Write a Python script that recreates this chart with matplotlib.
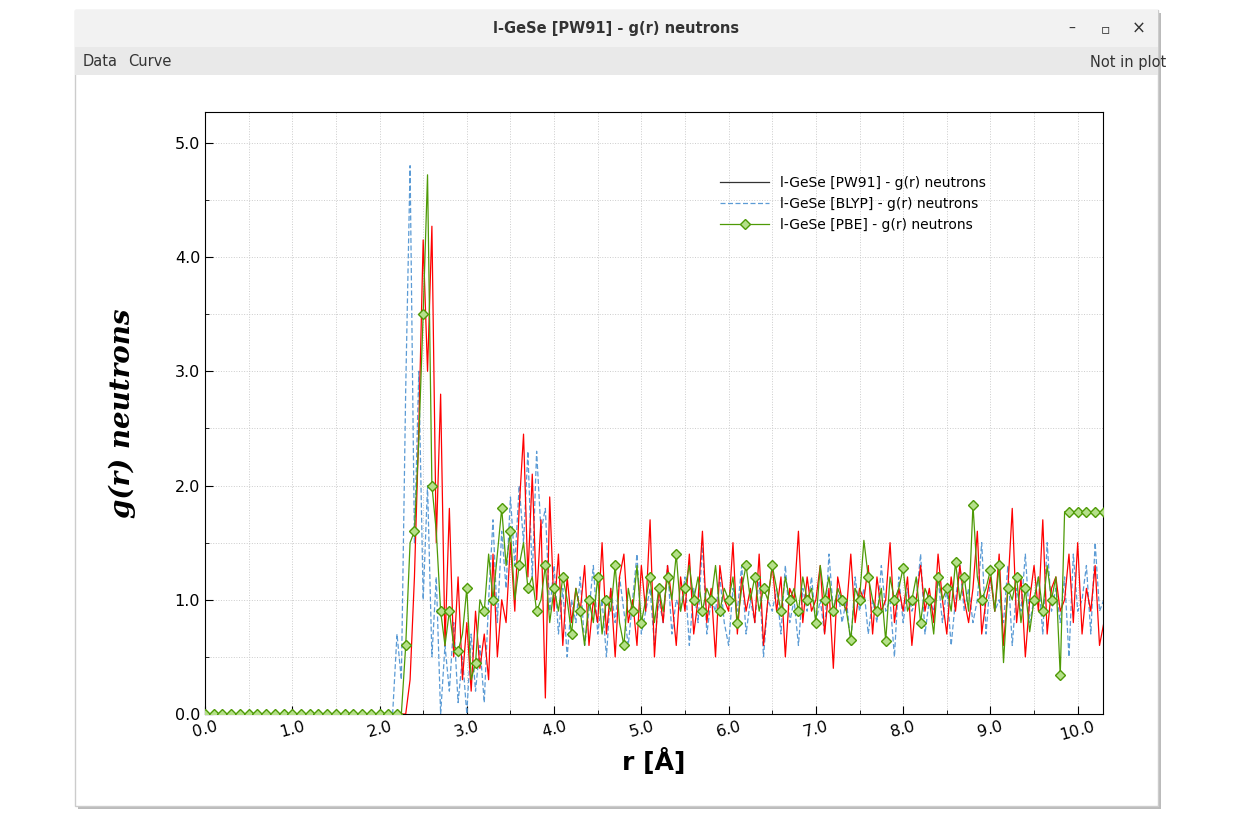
import numpy as np
import matplotlib
matplotlib.use('Agg')
import matplotlib.pyplot as plt
from matplotlib.patches import Rectangle
from matplotlib.ticker import MultipleLocator

# grid of r values, 0.05 A step
r = np.round(np.arange(0, 10.301, 0.05), 2)

pw91_head = [0.0] * 46  # 0.00 .. 2.25
pw91 = pw91_head + [
    0.0, 0.3, 1.2, 2.5, 4.15, 3.0, 4.27, 1.5, 2.8, 0.6,
    1.8, 0.5, 1.2, 0.3, 0.8, 0.2, 0.9, 0.4, 0.7, 0.3,
    1.4, 0.5, 1.0, 0.8, 1.5, 0.9, 1.8, 2.45, 1.2, 2.1,
    1.0, 1.7, 0.14, 1.9, 0.9, 1.4, 0.6, 1.2, 0.8, 1.1,
    0.9, 1.3, 0.6, 1.0, 0.8, 1.5, 0.7, 1.1, 0.5, 1.2,
    1.4, 0.8, 1.0, 0.6, 1.3, 0.9, 1.7, 0.5, 1.1, 0.8,
    1.3, 1.0, 0.6, 1.2, 0.9, 1.4, 0.7, 1.0, 1.6, 0.8,
    1.1, 0.5, 1.3, 1.0, 0.9, 1.5, 0.7, 1.2, 0.9, 1.1,
    0.8, 1.4, 0.6, 1.0, 1.3, 0.9, 1.2, 0.5, 1.1, 1.0,
    1.6, 0.8, 1.2, 0.9, 1.0, 1.3, 0.7, 1.1, 0.4, 1.2,
    1.0, 0.9, 1.4, 0.8, 1.1, 1.0, 1.3, 0.7, 1.2, 0.9,
    1.0, 1.5, 0.8, 1.1, 0.9, 1.2, 0.6, 1.0, 1.3, 0.9,
    1.1, 0.8, 1.4, 1.0, 0.7, 1.2, 0.9, 1.3, 1.0, 0.8,
    1.1, 1.6, 0.7, 1.0, 1.2, 0.9, 1.4, 0.6, 1.1, 1.8,
    0.8, 1.2, 0.5, 1.0, 1.3, 0.9, 1.7, 0.7, 1.1, 1.2,
    0.9, 1.0, 1.4, 0.8, 1.5, 0.7, 1.1, 0.9, 1.3, 0.6,
    0.8,
]

blyp_head = [0.0] * 44  # 0.00 .. 2.15
blyp = blyp_head + [
    0.7, 0.3, 2.85, 4.8, 1.5, 3.0, 1.0, 2.0, 0.5, 1.2,
    0.0, 0.6, 0.2, 0.8, 0.1, 0.5, 0.0, 0.7, 0.2, 0.6,
    0.1, 1.0, 1.7, 0.8, 1.6, 1.1, 1.9, 1.3, 2.0, 1.5,
    2.3, 1.2, 2.3, 1.6, 1.8, 0.9, 1.3, 0.7, 1.1, 0.5,
    1.0, 0.8, 1.2, 0.6, 0.9, 1.3, 0.7, 1.0, 0.5, 1.1,
    0.8, 1.2, 0.9, 0.6, 1.0, 1.4, 0.7, 0.9, 1.1, 0.6,
    1.0, 0.8, 1.3, 0.7, 1.0, 0.9, 1.2, 0.6, 1.1, 0.8,
    1.5, 0.7, 1.0, 0.9, 1.2, 0.8, 0.6, 1.1, 0.9, 1.3,
    0.7, 1.0, 0.8, 1.2, 0.5, 1.0, 0.9, 1.1, 0.7, 1.3,
    0.8, 1.0, 0.6, 1.1, 0.9, 1.2, 0.8, 1.0, 0.7, 1.4,
    0.9, 1.1, 0.8, 1.0, 0.6, 1.2, 0.9, 1.1, 0.7, 1.0,
    0.8, 1.3, 0.9, 1.0, 0.5, 1.2, 0.8, 1.1, 0.9, 1.0,
    1.4, 0.7, 1.0, 0.9, 1.2, 0.8, 1.1, 0.6, 1.0, 1.3,
    0.9, 1.1, 0.8, 1.0, 1.5, 0.7, 1.2, 0.9, 1.0, 0.8,
    1.3, 0.6, 1.1, 0.9, 1.4, 0.8, 1.0, 1.2, 0.7, 1.5,
    0.9, 1.1, 0.8, 1.2, 0.5, 1.4, 0.9, 1.0, 1.3, 0.7,
    1.5, 0.9, 1.0,
]

pbe_head = [0.0] * 46  # 0.00 .. 2.25
pbe = pbe_head + [
    0.6, 1.5, 1.6, 2.4, 3.5, 4.72, 2.0, 1.6, 0.9, 0.6,
    0.9, 0.6, 0.55, 0.7, 1.1, 0.3, 0.45, 1.0, 0.9, 1.4,
    1.0, 1.4, 1.8, 1.3, 1.6, 1.0, 1.3, 1.5, 1.1, 1.2,
    0.9, 1.0, 1.3, 0.8, 1.1, 0.9, 1.2, 1.0, 0.7, 1.1,
    0.9, 0.6, 1.0, 0.8, 1.2, 0.7, 1.0, 0.9, 1.3, 0.8,
    0.6, 1.1, 0.9, 1.3, 0.8, 1.0, 1.2, 0.8, 1.1, 0.9,
    1.2, 1.0, 1.4, 0.9, 1.1, 1.3, 1.0, 1.2, 0.9, 1.1,
    1.0, 1.3, 0.9, 1.1, 1.0, 1.2, 0.8, 1.1, 1.3, 1.0,
    1.2, 0.9, 1.1, 1.0, 1.3, 1.1, 0.9, 1.2, 1.0, 1.1,
    0.9, 1.2, 1.0, 1.1, 0.8, 1.3, 1.0, 1.2, 0.9, 1.1,
    1.0, 0.9, 0.65, 1.1, 1.0, 1.52, 1.2, 1.0, 0.9, 1.1,
    0.64, 1.2, 1.0, 1.1, 1.28, 0.9, 1.0, 1.2, 0.8, 1.1,
    1.0, 0.7, 1.2, 1.0, 1.1, 0.9, 1.33, 1.0, 1.2, 0.9,
    1.83, 1.2, 1.0, 1.1, 1.26, 0.9, 1.3, 0.45, 1.1, 1.0,
    1.2, 0.8, 1.1, 0.72, 1.0, 1.2, 0.9, 1.3, 1.0, 1.2,
    0.34, 1.77,
]
pw91 = (pw91 + [pw91[-1]] * len(r))[:len(r)]
blyp = (blyp + [blyp[-1]] * len(r))[:len(r)]
pbe = (pbe + [pbe[-1]] * len(r))[:len(r)]

fig = plt.figure(figsize=(12.41, 8.25), dpi=100)
W, H = 1241, 825


def rect(x0, y0, x1, y1, **kw):
    fig.patches.append(Rectangle((x0 / W, 1 - y1 / H), (x1 - x0) / W, (y1 - y0) / H,
                                 transform=fig.transFigure, **kw))


# window frame
rect(78, 13, 1161, 809, facecolor='#bbbbbb', edgecolor='none', zorder=-3)
rect(75, 10, 1158, 806, facecolor='white', edgecolor='#cccccc', zorder=-2)
rect(75, 10, 1158, 47, facecolor='#f2f2f2', edgecolor='none', zorder=-1)
rect(75, 47, 1158, 75, facecolor='#e9e9e9', edgecolor='none', zorder=-1)
fig.text(616 / W, 1 - 29 / H, 'l-GeSe [PW91] - g(r) neutrons', ha='center', va='center',
         fontsize=10.5, fontweight='bold', color='#333333')
fig.text(1072 / W, 1 - 29 / H, '–', ha='center', va='center', fontsize=10, color='#333333')
fig.text(1105 / W, 1 - 29 / H, '▫', ha='center', va='center', fontsize=10, color='#333333')
fig.text(1139 / W, 1 - 29 / H, '×', ha='center', va='center', fontsize=12, color='#333333')
fig.text(83 / W, 1 - 62 / H, 'Data', va='center', fontsize=10.5, color='#333333')
fig.text(128 / W, 1 - 62 / H, 'Curve', va='center', fontsize=10.5, color='#333333')
fig.text(1090 / W, 1 - 62 / H, 'Not in plot', va='center', fontsize=10.5, color='#333333')

ax = fig.add_axes([205 / W, 1 - 714 / H, (1103 - 205) / W, (714 - 112) / H])
ax.plot(r, pw91, color='red', lw=0.9, label='l-GeSe [PW91] - g(r) neutrons', zorder=3)
ax.plot(r, blyp, color='#5b9bd5', lw=0.9, ls=(0, (4, 2)), label='l-GeSe [BLYP] - g(r) neutrons', zorder=2)
ax.plot(r, pbe, color='#4e9a06', lw=0.9, marker='D', ms=5, mfc='#b5e08a', mec='#4e9a06',
        markevery=2, label='l-GeSe [PBE] - g(r) neutrons', zorder=4)
ax.legend(loc='upper left', bbox_to_anchor=(0.56, 0.915), frameon=False, fontsize=10,
          handlelength=3.5)
# legend line for PW91 is dark in the reference
ax.get_legend().get_lines()[0].set_color('#333333')

ax.set_xlim(0, 10.29)
ax.set_ylim(0, 5.27)
ax.xaxis.set_minor_locator(MultipleLocator(0.5))
ax.yaxis.set_minor_locator(MultipleLocator(0.5))
ax.set_xticks(np.arange(0, 10.5, 1.0))
ax.set_xticklabels(['%.1f' % v for v in np.arange(0, 10.5, 1.0)], rotation=15)
ax.set_yticks(np.arange(0, 5.5, 1.0))
ax.set_yticklabels(['%.1f' % v for v in np.arange(0, 5.5, 1.0)])
ax.tick_params(which='both', direction='in', labelsize=11.5)
ax.tick_params(which='major', length=6)
ax.tick_params(which='minor', length=3)
ax.grid(True, which='both', ls=':', color='#cccccc', lw=0.7)
ax.set_xlabel('r [Å]', fontsize=18, fontweight='bold')
ax.set_ylabel('g(r) neutrons', fontsize=20, fontweight='bold', style='italic',
              family='DejaVu Serif', labelpad=28)

plt.savefig('out.png', dpi=100)
